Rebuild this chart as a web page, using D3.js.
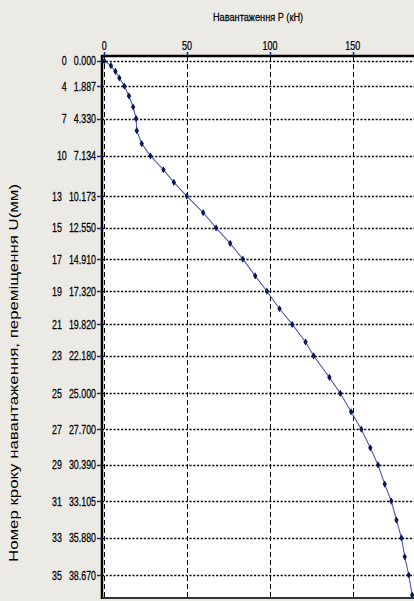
<!DOCTYPE html>
<html><head><meta charset="utf-8">
<script src="https://cdn.jsdelivr.net/npm/d3@7"></script>
<style>
html,body{margin:0;padding:0;background:#ECEAE4;}
svg{display:block;}
text{font-family:"Liberation Sans",Arial,sans-serif;fill:#000;}
</style></head>
<body>
<script>
// ---- data ----
const steps = [0,1,2,3,4,5,6,7,8,9,10,11,12,13,14,15,16,17,18,19,20,21,22,23,24,25,26,27,28,29,30,31,32,33,34,35,36];
const displacement = [0,0.35,0.78,1.28,1.887,2.63,3.46,4.330,5.24,6.22,7.134,8.18,9.13,10.173,11.41,12.550,13.72,14.910,16.16,17.320,18.64,19.820,21.14,22.180,23.80,25.000,26.39,27.700,29.10,30.390,31.83,33.105,34.54,35.880,37.30,38.670,40.18];
const load = [0,4.0,6.7,9.1,12.1,14.9,17.4,19.2,19.6,22.6,27.8,35.7,42.0,49.8,59.7,67.5,76.0,83.7,91.1,98.2,105.8,113.5,121.5,126.4,135.9,142.5,149.0,155.2,160.6,165.3,169.3,173.3,176.4,179.4,181.4,183.8,185.9];
const tickSteps = [0,4,7,10,13,15,17,19,21,23,25,27,29,31,33,35];
const tickDisp = ["0.000","1.887","4.330","7.134","10.173","12.550","14.910","17.320","19.820","22.180","25.000","27.700","30.390","33.105","35.880","38.670"];
const xTicks = [0,50,100,150];
const xTitle = "Навантаження P (кН)";
const yTitle = "Номер кроку навантаження, переміщення U(мм)";

const W = 414, H = 601;
const svg = d3.select("body").append("svg").attr("width", W).attr("height", H);

const pL = 102, pT = 56, pR = 416, pB = 598;
const x = d3.scaleLinear().domain([-1.39, 188.2]).range([pL, pR]);
const y = d3.scaleLinear().domain([-0.376, 40.40]).range([pT, pB]);

// narrow text helper (condensed look of the original UI font)
function ntext(g, tx, ty, str, anchor, size, sx) {
  return g.append("text")
    .attr("transform", `translate(${tx},${ty}) scale(${sx},1)`)
    .attr("text-anchor", anchor).attr("font-size", size)
    .attr("stroke", "#000").attr("stroke-width", 0.25)
    .text(str);
}

// plot background
svg.append("rect").attr("x", pL).attr("y", pT).attr("width", pR-pL).attr("height", pB-pT).attr("fill", "#fff");

// vertical grid
svg.append("g").selectAll("line").data(xTicks).join("line")
  .attr("x1", d => Math.round(x(d))+0.5).attr("x2", d => Math.round(x(d))+0.5)
  .attr("y1", pT).attr("y2", pB)
  .attr("stroke", "#000").attr("stroke-width", 1).attr("stroke-dasharray", "5,3");

// horizontal grid
svg.append("g").selectAll("line").data(tickDisp).join("line")
  .attr("x1", pL).attr("x2", pR)
  .attr("y1", d => Math.round(y(+d))+0.5).attr("y2", d => Math.round(y(+d))+0.5)
  .attr("stroke", "#111").attr("stroke-width", 1.6).attr("stroke-dasharray", "2.2,1.6");

// series
const pts = steps.map((s,i) => ({s, u: displacement[i], p: load[i]}));
svg.append("path").datum(pts)
  .attr("d", d3.line().x(d => x(d.p)).y(d => y(d.u)))
  .attr("fill", "none").attr("stroke", "#4b5cb3").attr("stroke-width", 1.1);
svg.append("g").selectAll("path").data(pts).join("path")
  .attr("transform", d => `translate(${x(d.p)},${y(d.u)})`)
  .attr("d", "M0,-3.6L2.2,0L0,3.6L-2.2,0Z")
  .attr("fill", "#0b1a55");

// frame
svg.append("line").attr("x1", pL-1).attr("x2", pR).attr("y1", pT).attr("y2", pT).attr("stroke", "#000").attr("stroke-width", 2.5);
svg.append("line").attr("x1", pL).attr("x2", pL).attr("y1", pT-1).attr("y2", pB+1).attr("stroke", "#000").attr("stroke-width", 2.5);
svg.append("line").attr("x1", pL).attr("x2", pR).attr("y1", pB).attr("y2", pB).attr("stroke", "#333").attr("stroke-width", 2);

// top axis ticks + labels
const gx = svg.append("g");
gx.selectAll("line").data(xTicks).join("line")
  .attr("x1", d => Math.round(x(d))+0.5).attr("x2", d => Math.round(x(d))+0.5)
  .attr("y1", pT-4).attr("y2", pT)
  .attr("stroke", "#1a2a8a").attr("stroke-width", 1.5);
xTicks.forEach(d => ntext(gx, x(d), 50, d, "middle", 12.5, 0.72));
ntext(svg, (pL+414)/2, 21, xTitle, "middle", 11.5, 0.8);

// left axis ticks + labels
const gy = svg.append("g");
gy.selectAll("line").data(tickDisp).join("line")
  .attr("x1", pL-5).attr("x2", pL)
  .attr("y1", d => Math.round(y(+d))+0.5).attr("y2", d => Math.round(y(+d))+0.5)
  .attr("stroke", "#1a2a8a").attr("stroke-width", 1.5);
tickDisp.forEach((d, i) => {
  const yy = y(+d) + 4.5;
  const sx = 0.71;
  const t = ntext(gy, 96, yy, d, "end", 12.5, sx);
  const w = t.node().getComputedTextLength() * sx;
  ntext(gy, 96 - w - 7, yy, tickSteps[i], "end", 12.5, sx);
});

svg.append("text").attr("transform", "translate(18,373) rotate(-90)")
  .attr("text-anchor", "middle").attr("font-size", 12.5)
  .attr("textLength", 378).attr("lengthAdjust", "spacingAndGlyphs")
  .text(yTitle);
</script>
</body></html>
